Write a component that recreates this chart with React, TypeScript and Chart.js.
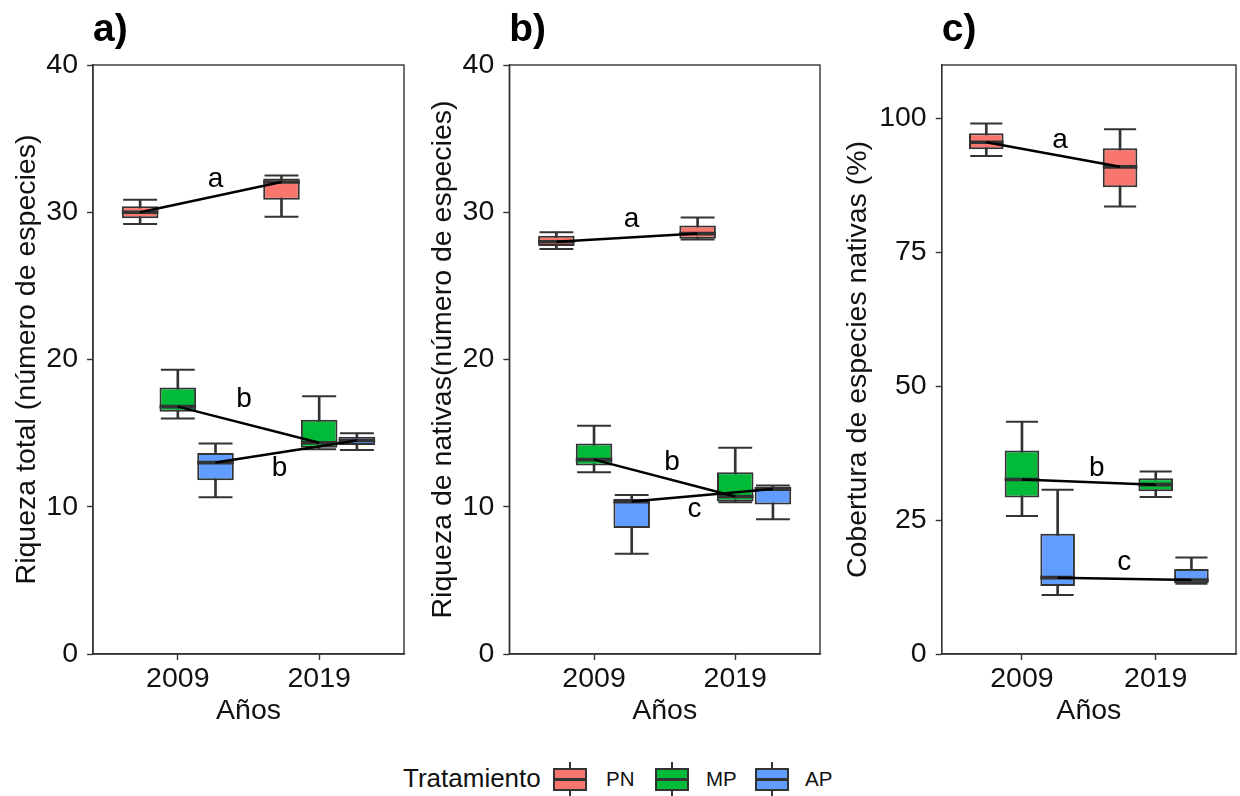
import React, { useEffect, useRef } from 'react';
import { Chart, registerables } from 'chart.js';

Chart.register(...registerables);

const FONT = '"Liberation Sans", Arial, Helvetica, sans-serif';
const INK = '#333333';
const TEXT = '#111111';

const years = ['2009', '2019'];
const treatments = ['PN', 'MP', 'AP'];
const fills = ['#F8766D', '#00BA38', '#619CFF'];

// Box statistics per year (2009, 2019): [min, q1, median, q3, max]
const totalPN = [[29.2, 29.6, 30.0, 30.4, 30.85], [29.7, 30.85, 32.05, 32.3, 32.5]];
const totalMP = [[16.0, 16.45, 16.8, 18.1, 19.3], [13.9, 14.0, 14.35, 15.9, 17.5]];
const totalAP = [[10.65, 11.8, 13.0, 13.65, 14.3], [13.85, 14.2, 14.5, 14.75, 15.0]];

const nativePN = [[27.5, 27.7, 28.0, 28.4, 28.65], [28.15, 28.2, 28.55, 29.1, 29.65]];
const nativeMP = [[12.35, 12.8, 13.2, 14.3, 15.5], [10.3, 10.35, 10.7, 12.35, 14.0]];
const nativeAP = [[6.8, 8.55, 10.35, 10.55, 10.8], [9.15, 10.15, 11.2, 11.35, 11.45]];

const coverPN = [[92.9, 94.2, 95.5, 97.15, 99.0], [83.5, 87.1, 90.9, 94.35, 97.9]];
const coverMP = [[25.75, 29.2, 32.55, 37.95, 43.35], [29.3, 30.35, 31.6, 32.8, 34.05]];
const coverAP = [[11.0, 12.7, 14.25, 22.45, 30.65], [13.1, 13.2, 13.8, 15.85, 18.0]];

const ticksRichness = [0, 10, 20, 30, 40];
const ticksCover = [0, 25, 50, 75, 100];

// Significance letters (x in year-axis units, y in data units)
const lettersTotal = ['a', 'b', 'b'];
const lettersTotalX = [1.267, 1.468, 1.719];
const lettersTotalY = [31.7, 16.77, 12.09];

const lettersNative = ['a', 'b', 'c'];
const lettersNativeX = [1.265, 1.552, 1.712];
const lettersNativeY = [29.0, 12.47, 9.31];

const lettersCover = ['a', 'b', 'c'];
const lettersCoverX = [1.285, 1.56, 1.765];
const lettersCoverY = [94.36, 33.2, 15.64];

const panels = [
  {
    tag: 'a)', yTitle: 'Riqueza total (número de especies)',
    series: [totalPN, totalMP, totalAP], yMax: 40, ticks: ticksRichness,
    letters: lettersTotal, lx: lettersTotalX, ly: lettersTotalY,
    left: 0, width: 412, yWidth: 93, yTitlePad: 9.9, padRight: 8,
  },
  {
    tag: 'b)', yTitle: 'Riqueza de nativas(número de especies)',
    series: [nativePN, nativeMP, nativeAP], yMax: 40, ticks: ticksRichness,
    letters: lettersNative, lx: lettersNativeX, ly: lettersNativeY,
    left: 412, width: 414, yWidth: 97.3, yTitlePad: 13.9, padRight: 6,
  },
  {
    tag: 'c)', yTitle: 'Cobertura de especies nativas (%)',
    series: [coverPN, coverMP, coverAP], yMax: 109.9, ticks: ticksCover,
    letters: lettersCover, lx: lettersCoverX, ly: lettersCoverY,
    left: 826, width: 414, yWidth: 115.7, yTitlePad: 14.9, padRight: 4,
  },
];

const DODGE = 0.8 / 3;
const BOX_FRAC = 0.97;
const CAP_FRAC = 0.9;
const AXIS_SIZE = 28.5;
const xPos = (yi: number, ti: number) => yi + 1 + (ti - 1) * DODGE;
const pxPerUnit = (chart: any) => {
  const s = chart.scales.x;
  return Math.abs(s.getPixelForValue(1) - s.getPixelForValue(0));
};

const framePlugin = {
  id: 'frame',
  afterDraw(chart: any) {
    const { ctx, chartArea } = chart;
    const { left, top, right, bottom } = chartArea;
    ctx.save();
    ctx.strokeStyle = INK;
    ctx.lineWidth = 1.4;
    ctx.strokeRect(left, top, right - left, bottom - top);
    ctx.restore();
  },
};

const lettersPlugin = {
  id: 'letters',
  afterDatasetsDraw(chart: any, _args: any, opts: any) {
    const { ctx } = chart;
    const sx = chart.scales.x;
    const sy = chart.scales.y;
    ctx.save();
    ctx.font = `28px ${FONT}`;
    ctx.fillStyle = '#000';
    ctx.textAlign = 'center';
    ctx.textBaseline = 'alphabetic';
    (opts.letters || []).forEach((t: string, i: number) => {
      ctx.fillText(t, sx.getPixelForValue(opts.lx[i]), sy.getPixelForValue(opts.ly[i]));
    });
    ctx.restore();
  },
};

function buildConfig(p: any): any {
  const datasets: any[] = [];
  p.series.forEach((stats: number[][], ti: number) => {
    datasets.push({
      type: 'bar',
      label: treatments[ti] + ' whisker',
      data: years.map((_, yi) => ({ x: xPos(yi, ti), y: [stats[yi][0], stats[yi][4]] })),
      backgroundColor: INK,
      borderWidth: 0,
      barThickness: 2,
      grouped: false,
      order: 6,
    });
    datasets.push({
      type: 'scatter',
      label: treatments[ti] + ' caps',
      data: years.flatMap((_, yi) => [
        { x: xPos(yi, ti), y: stats[yi][0] },
        { x: xPos(yi, ti), y: stats[yi][4] },
      ]),
      pointStyle: 'line',
      pointRadius: (c: any) => (pxPerUnit(c.chart) * DODGE * CAP_FRAC) / 2,
      pointHoverRadius: (c: any) => (pxPerUnit(c.chart) * DODGE * CAP_FRAC) / 2,
      pointBorderColor: INK,
      pointBorderWidth: 2,
      showLine: false,
      order: 5,
    });
    datasets.push({
      type: 'bar',
      label: treatments[ti],
      data: years.map((_, yi) => ({ x: xPos(yi, ti), y: [stats[yi][1], stats[yi][3]] })),
      backgroundColor: fills[ti],
      borderColor: INK,
      borderWidth: 2,
      borderSkipped: false,
      grouped: false,
      categoryPercentage: 1,
      barPercentage: BOX_FRAC,
      order: 4,
    });
    datasets.push({
      type: 'scatter',
      label: treatments[ti] + ' median',
      data: years.map((_, yi) => ({ x: xPos(yi, ti), y: stats[yi][2] })),
      pointStyle: 'line',
      pointRadius: (c: any) => (pxPerUnit(c.chart) * DODGE * BOX_FRAC) / 2,
      pointHoverRadius: (c: any) => (pxPerUnit(c.chart) * DODGE * BOX_FRAC) / 2,
      pointBorderColor: INK,
      pointBorderWidth: 3.6,
      showLine: false,
      order: 3,
    });
  });
  p.series.forEach((stats: number[][], ti: number) => {
    datasets.push({
      type: 'line',
      label: treatments[ti] + ' trend',
      data: years.map((_, yi) => ({ x: xPos(yi, ti), y: stats[yi][2] })),
      borderColor: '#000',
      borderWidth: 2.5,
      pointRadius: 0,
      pointHoverRadius: 0,
      fill: false,
      tension: 0,
      order: 1,
    });
  });

  const axisFont = { family: FONT, size: AXIS_SIZE };
  return {
    type: 'scatter',
    data: { datasets },
    options: {
      responsive: false,
      animation: false,
      events: [],
      layout: { padding: { left: 0, right: p.padRight, top: 0, bottom: 12 } },
      plugins: {
        legend: { display: false },
        tooltip: { enabled: false },
        title: {
          display: true,
          text: p.tag,
          align: 'start',
          fullSize: false,
          color: '#000',
          font: { family: FONT, size: 39, weight: 'bold', lineHeight: 1.2 },
          padding: { top: 6.5, bottom: 11.7 },
        },
        letters: { letters: p.letters, lx: p.lx, ly: p.ly },
      },
      scales: {
        x: {
          type: 'linear',
          min: 0.4,
          max: 2.6,
          offset: false,
          afterBuildTicks: (s: any) => {
            s.ticks = years.map((_, i) => ({ value: i + 1 }));
          },
          afterFit: (s: any) => {
            s.height = 74;
          },
          ticks: {
            callback: (v: number) => years[Math.round(v) - 1] ?? '',
            font: axisFont,
            color: TEXT,
            padding: 2,
            maxRotation: 0,
            autoSkip: false,
          },
          grid: {
            display: true,
            drawOnChartArea: false,
            drawTicks: true,
            tickLength: 6,
            tickColor: INK,
            tickWidth: 1.4,
            offset: false,
          },
          border: { display: true, color: INK, width: 1.4 },
          title: {
            display: true,
            text: 'Años',
            font: axisFont,
            color: TEXT,
            padding: { top: 0, bottom: 0 },
          },
        },
        y: {
          type: 'linear',
          min: 0,
          max: p.yMax,
          afterBuildTicks: (s: any) => {
            s.ticks = p.ticks.map((v: number) => ({ value: v }));
          },
          afterFit: (s: any) => {
            s.width = p.yWidth;
          },
          ticks: { font: axisFont, color: TEXT, padding: 9 },
          grid: {
            display: true,
            drawOnChartArea: false,
            drawTicks: true,
            tickLength: 6,
            tickColor: INK,
            tickWidth: 1.4,
          },
          border: { display: true, color: INK, width: 1.4 },
          title: {
            display: true,
            text: p.yTitle,
            font: axisFont,
            color: TEXT,
            padding: { top: p.yTitlePad, bottom: 0 },
          },
        },
      },
    },
    plugins: [framePlugin, lettersPlugin],
  };
}

function Panel({ p }: { p: any }) {
  const ref = useRef<HTMLCanvasElement>(null);
  useEffect(() => {
    const chart = new Chart(ref.current as HTMLCanvasElement, buildConfig(p));
    return () => chart.destroy();
  }, [p]);
  return (
    <canvas
      ref={ref}
      width={p.width}
      height={740}
      style={{ position: 'absolute', left: p.left, top: 0, width: p.width, height: 740 }}
    />
  );
}

const legendKeyLeft = [553, 655, 755];
const legendLabelLeft = [606, 706, 805];

function LegendKey({ left, color }: { left: number; color: string }) {
  return (
    <div style={{ position: 'absolute', left, top: 762, width: 34, height: 35 }}>
      <div style={{ position: 'absolute', left: 16, top: 0, width: 2, height: 35, background: INK }} />
      <div
        style={{
          position: 'absolute', left: 0, top: 6, width: 34, height: 23,
          boxSizing: 'border-box', border: `2px solid ${INK}`, background: color,
        }}
      />
      <div style={{ position: 'absolute', left: 0, top: 16, width: 34, height: 3, background: INK }} />
    </div>
  );
}

export default function App() {
  return (
    <div
      style={{
        position: 'absolute', left: 0, top: 0, width: 1240, height: 796,
        background: '#ffffff', overflow: 'hidden', fontFamily: FONT,
      }}
    >
      {panels.map((p) => (
        <Panel key={p.tag} p={p} />
      ))}
      <span
        style={{
          position: 'absolute', left: 403, top: 764.7, fontSize: 26, lineHeight: '26px',
          color: TEXT, whiteSpace: 'nowrap',
        }}
      >
        Tratamiento
      </span>
      {treatments.map((t, i) => (
        <React.Fragment key={t}>
          <LegendKey left={legendKeyLeft[i]} color={fills[i]} />
          <span
            style={{
              position: 'absolute', left: legendLabelLeft[i], top: 769.3, fontSize: 20.5,
              lineHeight: '20.5px', color: TEXT, whiteSpace: 'nowrap',
            }}
          >
            {t}
          </span>
        </React.Fragment>
      ))}
    </div>
  );
}
